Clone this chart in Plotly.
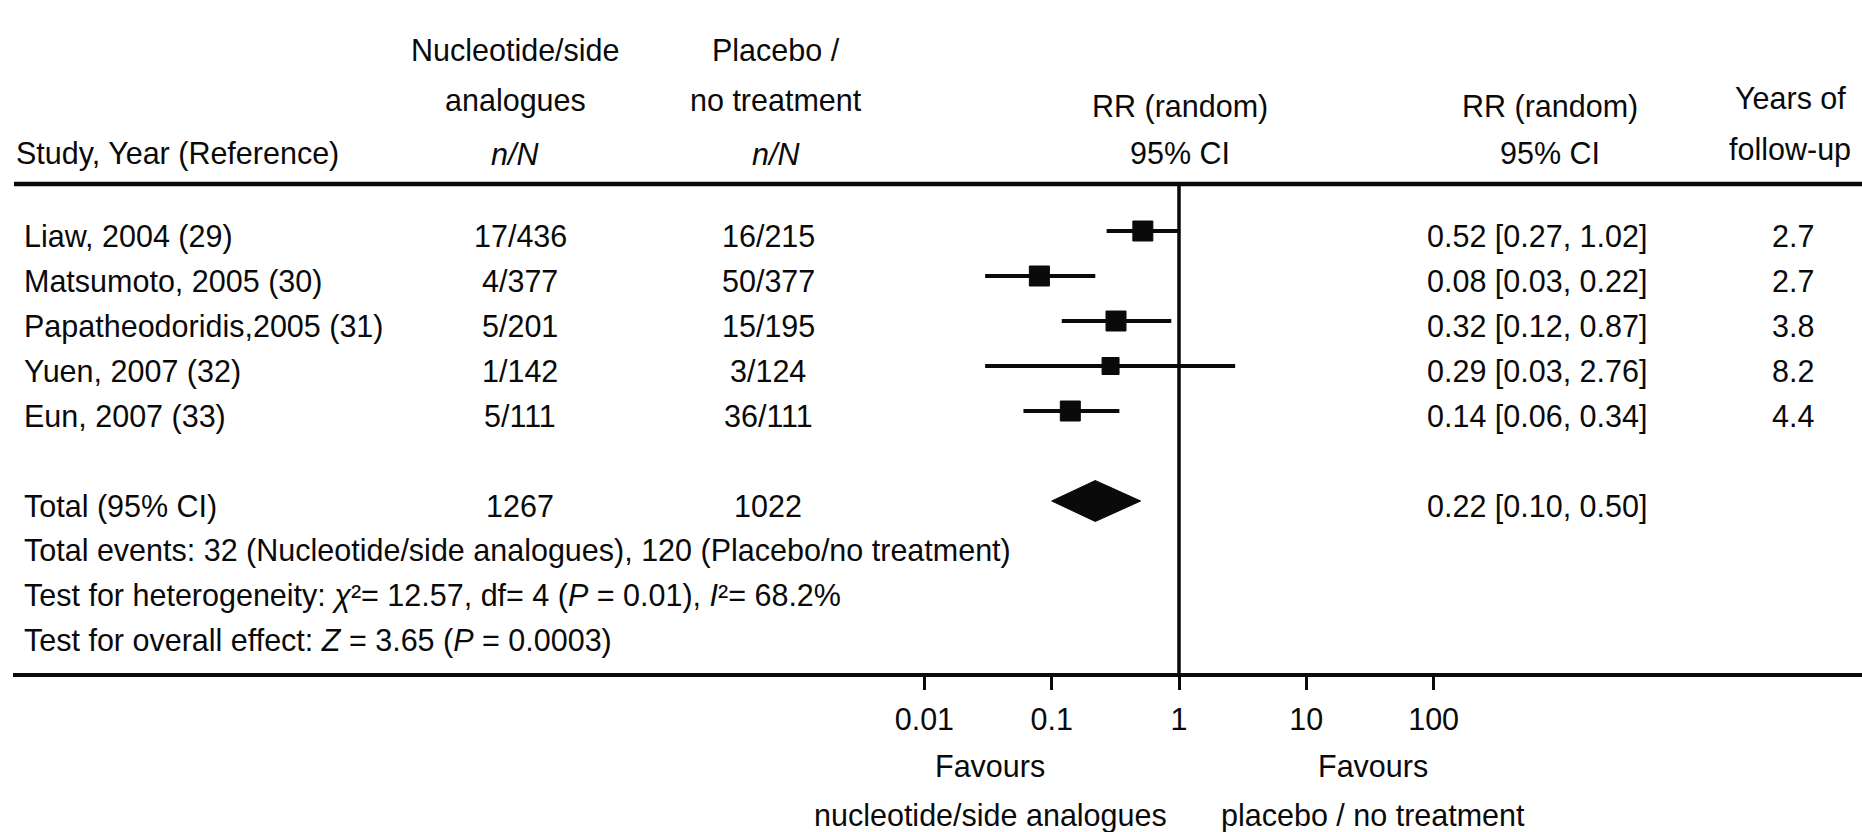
import plotly.graph_objects as go

# ---- data -------------------------------------------------------------
studies = [
    "Liaw, 2004 (29)",
    "Matsumoto, 2005 (30)",
    "Papatheodoridis,2005 (31)",
    "Yuen, 2007 (32)",
    "Eun, 2007 (33)",
]
treat_events = [17, 4, 5, 1, 5]
treat_total = [436, 377, 201, 142, 111]
ctrl_events = [16, 50, 15, 3, 36]
ctrl_total = [215, 377, 195, 124, 111]
rr = [0.52, 0.08, 0.32, 0.29, 0.14]
ci_low = [0.27, 0.03, 0.12, 0.03, 0.06]
ci_high = [1.02, 0.22, 0.87, 2.76, 0.34]
follow_up_years = [2.7, 2.7, 3.8, 8.2, 4.4]

pooled_rr = 0.22
pooled_low = 0.10
pooled_high = 0.50

het_chi2 = 12.57
het_df = 4
het_p = "0.01"
het_i2 = 68.2
overall_z = 3.65
overall_p = "0.0003"

tick_values = [0.01, 0.1, 1, 10, 100]
tick_labels = ["0.01", "0.1", "1", "10", "100"]

# ---- layout constants -------------------------------------------------
W, H = 1862, 832
FONT = "Liberation Sans, Arial, Helvetica, sans-serif"
FS = 30.5
INK = "#0a0a0a"

MARK_Y0 = 231      # first study row (marks)
TEXT_Y0 = 236      # first study row (text)
ROW_H = 45
TOTAL_ROW = 6      # pooled row index
SUMMARY_Y0 = 550
TOP_RULE_Y = 184
BOTTOM_RULE_Y = 675

COL_STUDY = 22
COL_TREAT = 520
COL_CTRL = 768
COL_FOREST = 1180
COL_CI = 1537
COL_YEARS = 1793

mark_y = [MARK_Y0 + ROW_H * i for i in range(len(studies))]
text_y = [TEXT_Y0 + ROW_H * i for i in range(len(studies))]
total_mark_y = MARK_Y0 + ROW_H * TOTAL_ROW
total_text_y = TEXT_Y0 + ROW_H * TOTAL_ROW


def label(text, x_px, y_px, anchor="left", size=FS):
    return dict(
        text=text, x=x_px / W, y=y_px, xref="paper", yref="y",
        xanchor=anchor, yanchor="middle", showarrow=False,
        font=dict(family=FONT, size=size, color=INK),
    )


fig = go.Figure()

# reference line at RR = 1
fig.add_trace(go.Scatter(
    x=[1, 1], y=[TOP_RULE_Y, BOTTOM_RULE_Y], mode="lines",
    line=dict(color=INK, width=3.5), hoverinfo="skip", showlegend=False,
))

# confidence interval whiskers
ci_x, ci_y = [], []
for lo, hi, y in zip(ci_low, ci_high, mark_y):
    ci_x += [lo, hi, None]
    ci_y += [y, y, None]
fig.add_trace(go.Scatter(
    x=ci_x, y=ci_y, mode="lines",
    line=dict(color=INK, width=4), hoverinfo="skip", showlegend=False,
))

# study point estimates
box_px = [20, 20, 20, 17, 20]
fig.add_trace(go.Scatter(
    x=rr, y=mark_y, mode="markers", opacity=1,
    marker=dict(symbol="square", size=box_px, color=INK, opacity=1,
                line=dict(width=1, color=INK)),
    showlegend=False,
))

# pooled estimate diamond
half_h = 20.5
fig.add_trace(go.Scatter(
    x=[pooled_low, pooled_rr, pooled_high, pooled_rr, pooled_low],
    y=[total_mark_y, total_mark_y - half_h, total_mark_y,
       total_mark_y + half_h, total_mark_y],
    mode="lines", fill="toself", fillcolor=INK,
    line=dict(color=INK, width=1), hoverinfo="skip", showlegend=False,
))

ann = []

# column headers
ann.append(label("Study, Year (Reference)", 14, 153))
for txt, y in [("Nucleotide/side", 50), ("analogues", 100), ("<i>n/N</i>", 154)]:
    ann.append(label(txt, 515, y, "center"))
for txt, y in [("Placebo /", 50), ("no treatment", 100), ("<i>n/N</i>", 154)]:
    ann.append(label(txt, 776, y, "center"))
for txt, y in [("RR (random)", 106), ("95% CI", 153)]:
    ann.append(label(txt, COL_FOREST, y, "center"))
    ann.append(label(txt, 1550, y, "center"))
for txt, y in [("Years of", 98), ("follow-up", 149)]:
    ann.append(label(txt, 1790, y, "center"))

# study rows
for i, name in enumerate(studies):
    y = text_y[i]
    ann.append(label(name, COL_STUDY, y))
    ann.append(label(f"{treat_events[i]}/{treat_total[i]}", COL_TREAT, y, "center"))
    ann.append(label(f"{ctrl_events[i]}/{ctrl_total[i]}", COL_CTRL, y, "center"))
    ann.append(label(f"{rr[i]:.2f} [{ci_low[i]:.2f}, {ci_high[i]:.2f}]", COL_CI, y, "center"))
    ann.append(label(f"{follow_up_years[i]:.1f}", COL_YEARS, y, "center"))

# pooled row
ann.append(label("Total (95% CI)", COL_STUDY, total_text_y))
ann.append(label(f"{sum(treat_total)}", COL_TREAT, total_text_y, "center"))
ann.append(label(f"{sum(ctrl_total)}", COL_CTRL, total_text_y, "center"))
ann.append(label(f"{pooled_rr:.2f} [{pooled_low:.2f}, {pooled_high:.2f}]", COL_CI, total_text_y, "center"))

# summary statistics
summary = [
    f"Total events: {sum(treat_events)} (Nucleotide/side analogues), "
    f"{sum(ctrl_events)} (Placebo/no treatment)",
    f"Test for heterogeneity: <i>χ</i>²= {het_chi2:.2f}, df= {het_df} "
    f"(<i>P</i> = {het_p}), <i>I</i>²= {het_i2:.1f}%",
    f"Test for overall effect: <i>Z</i> = {overall_z:.2f} (<i>P</i> = {overall_p})",
]
for i, txt in enumerate(summary):
    ann.append(label(txt, COL_STUDY, SUMMARY_Y0 + ROW_H * i))

# favours labels under the axis
ann.append(label("Favours", 990, 766, "center"))
ann.append(label("nucleotide/side analogues", 990, 815, "center"))
ann.append(label("Favours", 1373, 766, "center"))
ann.append(label("placebo / no treatment", 1373, 815, "center"))

shapes = [
    dict(type="line", xref="paper", yref="y", x0=14 / W, x1=1,
         y0=TOP_RULE_Y, y1=TOP_RULE_Y, line=dict(color=INK, width=4.5)),
]

x_left_px = 13
px_per_decade = 127.3
x_one_px = 1179
log_lo = -(x_one_px - x_left_px) / px_per_decade
log_hi = (W - x_one_px) / px_per_decade

fig.update_layout(
    width=W, height=H,
    margin=dict(l=0, r=0, t=0, b=0),
    paper_bgcolor="white", plot_bgcolor="white",
    annotations=ann, shapes=shapes,
    xaxis=dict(
        type="log", range=[log_lo, log_hi], domain=[x_left_px / W, 1],
        anchor="free", position=(H - BOTTOM_RULE_Y) / H,
        showline=True, linewidth=4, linecolor=INK,
        ticks="outside", ticklen=13, tickwidth=3, tickcolor=INK,
        tickmode="array", tickvals=tick_values, ticktext=tick_labels,
        tickfont=dict(family=FONT, size=FS, color=INK),
        ticklabelstandoff=3,
        showgrid=False, zeroline=False, fixedrange=True,
    ),
    yaxis=dict(
        range=[H, 0], visible=False, showgrid=False, zeroline=False,
        fixedrange=True,
    ),
    showlegend=False,
)

fig.write_html("out.html")
